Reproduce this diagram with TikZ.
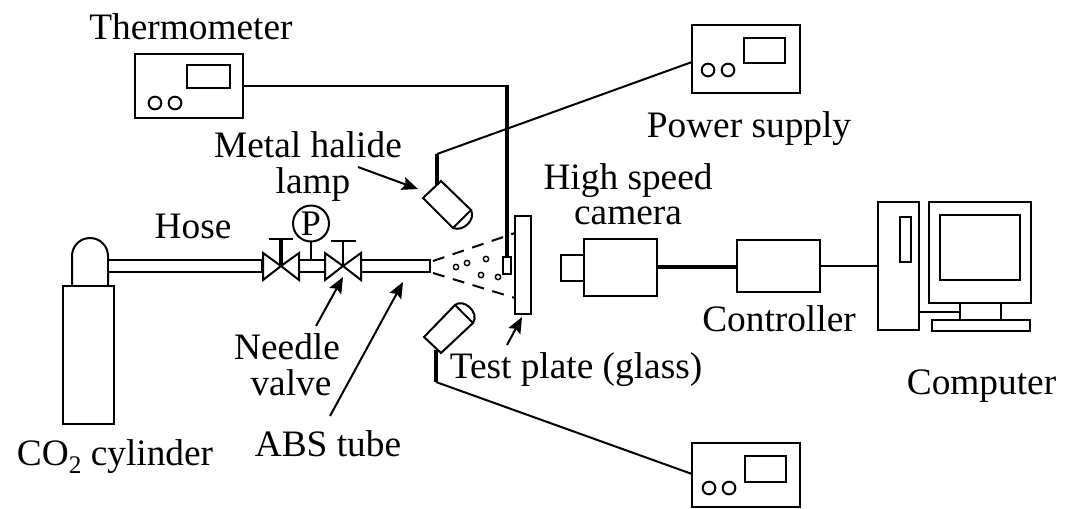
\documentclass[tikz,border=0pt]{standalone}
\usepackage{fontspec}
\setmainfont{Liberation Serif}
\usetikzlibrary{fit,arrows.meta}
\tikzset{
  lw/.style={line width=1.5pt},
  thickwire/.style={line width=2.6pt},
  blk/.style={draw,lw,inner sep=0pt,outer sep=0pt,rectangle,fill=white},
  txt/.style={anchor=base,inner sep=0pt,outer sep=0pt,font=\fontsize{28}{30}\selectfont},
  ptr/.style={lw,-{Stealth[length=12pt,width=10pt,inset=2pt]}},
  knob/.style={draw,lw,circle,inner sep=0pt,outer sep=0pt,minimum size=9.5pt},
  dot/.style={draw,line width=1.1pt,circle,inner sep=0pt,outer sep=0pt,minimum size=4pt},
  spray/.style={lw,dash pattern=on 9pt off 6.5pt}
}
\begin{document}
\begin{tikzpicture}[x=.75pt,y=-.75pt,line join=miter]
\useasboundingbox (0,0) rectangle (1066,508);
% --- instrument boxes
\node[blk,fit={(135,54)(243,118)}] (therm) {};
\node[blk,fit={(187,65)(230,88)}] (thermd) {};
\node[knob] (thermk1) at (155,103) {};
\node[knob] (thermk2) at (175,103) {};
\node[blk,fit={(692,25)(800,93)}] (psu) {};
\node[blk,fit={(744,38)(785,63)}] (psud) {};
\node[knob] (psuk1) at (708,70) {};
\node[knob] (psuk2) at (728,70) {};
\node[blk,fit={(692,443)(800,507)}] (psl) {};
\node[blk,fit={(744.5,456)(785.5,482)}] (psld) {};
\node[knob] (pslk1) at (709,488) {};
\node[knob] (pslk2) at (729,488) {};
% --- cylinder, hose, valves
\draw[lw] (72,286) -- (72,256) .. controls (72,246) and (80,238) .. (90,238)
  .. controls (100,238) and (108,246) .. (108,256) -- (108,286);
\node[blk,fit={(63,286)(114,424)}] (cyl) {};
\node[blk,fit={(108,260)(262,272)}] (hose) {};
\node[blk,fit={(299,260)(325,272)}] (mid) {};
\node[blk,fit={(361,260)(430,272)}] (abs) {};
\coordinate (v1) at (281,266);
\coordinate (v2) at (343,266);
\draw[lw,fill=white] (v1) -- (263,253) -- (263,280) -- cycle;
\draw[lw,fill=white] (v1) -- (299,253) -- (299,280) -- cycle;
\draw[lw,fill=white] (v2) -- (325,253) -- (325,280) -- cycle;
\draw[lw,fill=white] (v2) -- (361,253) -- (361,280) -- cycle;
\coordinate (h1) at (281,239);
\coordinate (h2) at (343,241);
\draw[thickwire] (v1) -- (h1);
\draw[lw] (v2) -- (h2);
\draw[thickwire,line width=2pt] (269,239) -- (293,239);
\draw[thickwire,line width=2pt] (331,241) -- (356,241);
\node[draw,lw,circle,inner sep=0pt,outer sep=0pt,minimum size=27pt,font=\fontsize{27}{27}\selectfont] (gauge) at (311,223.5) {P};
\draw[lw] (gauge.south) -- (gauge.south |- mid.north);
% --- spray
\coordinate (s1) at (433,261);
\coordinate (s2) at (433,273);
\coordinate (e1) at (515,233);
\coordinate (e2) at (515,298);
\draw[spray] (s1) -- (e1);
\draw[spray] (s2) -- (e2);
\node[dot] (d1) at (456,267) {};
\node[dot] (d2) at (467,263) {};
\node[dot] (d3) at (486,259) {};
\node[dot] (d4) at (481,275) {};
\node[dot] (d5) at (498,277) {};
\node[blk,fit={(515,216)(531,314)}] (plate) {};
\node[blk,fit={(503,257)(511,274)}] (sensor) {};
% --- thermometer wire
\coordinate (tj) at (sensor.north |- therm.east);
\draw[lw] (therm.east) -- (tj);
\draw[thickwire] ([yshift=1pt]tj) -- (sensor.north);
% --- lamps
\coordinate (la) at (423,198);
\coordinate (lb) at (441,181);
\coordinate (lc) at (471,210);
\coordinate (ld) at (453,228);
\draw[lw] (la) -- (lb) -- (lc) -- (ld) -- cycle;
\draw[lw] (lc) .. controls (476,220) and (463,232) .. (ld);
\coordinate (ua) at (437,185);
\coordinate (ub) at (437,154);
\coordinate (up) at (692,62);
\draw[thickwire] (ua) -- (ub);
\draw[lw] (ub) -- (up);
\coordinate (ma) at (424,337);
\coordinate (mb) at (455,305);
\coordinate (mc) at (473,323);
\coordinate (md) at (441,353);
\draw[lw] (ma) -- (mb) -- (mc) -- (md) -- cycle;
\draw[lw] (mb) .. controls (463,298) and (480,312) .. (mc);
\coordinate (wa) at (436,350);
\coordinate (wb) at (436,382);
\coordinate (wp) at (692,474);
\draw[thickwire] (wa) -- (wb);
\draw[lw] (wb) -- (wp);
% --- camera, controller, computer
\node[blk,fit={(561,255)(584,281)}] (lens) {};
\node[blk,fit={(584,239)(657,296)}] (cam) {};
\node[blk,fit={(737,240)(820,292)}] (ctrl) {};
\node[blk,fit={(878,202)(919,330)}] (tower) {};
\node[blk,fit={(900,217)(910.5,262)}] (slot) {};
\node[blk,fit={(929,202)(1031,303)}] (mon) {};
\node[blk,fit={(940,215)(1020,280)}] (scr) {};
\node[blk,fit={(960,303)(1001,320)}] (stand) {};
\node[blk,fit={(932,320)(1030,331)}] (base) {};
\draw[thickwire] (cam.east |- 0,267) -- (ctrl.west |- 0,267);
\draw[lw] (ctrl.east |- 0,266) -- (tower.west |- 0,266);
\draw[lw] (tower.east |- stand.west) -- (stand.west);
% --- labels
\node[txt] (tThermo) at (191,39) {Thermometer};
\node[txt] (tPower) at (749,137) {Power supply};
\node[txt] (tMetal) at (308,157) {Metal halide};
\node[txt] (tLamp) at (313,193) {lamp};
\node[txt] (tHigh) at (628,189) {High speed};
\node[txt] (tCam) at (628,224) {camera};
\node[txt] (tCtrl) at (779,331) {Controller};
\node[txt] (tPlate) at (576,378) {Test plate (glass)};
\node[txt] (tComp) at (981.5,394) {Computer};
\node[txt] (tHose) at (193,238) {Hose};
\node[txt] (tNeedle) at (287,359) {Needle};
\node[txt] (tValve) at (291,395) {valve};
\node[txt] (tAbs) at (328,456) {ABS tube};
\node[txt] (tCo) at (115,465) {CO\raisebox{-6pt}{\fontsize{19}{19}\selectfont 2} cylinder};
% --- pointers
\coordinate (p1a) at (358,167); \coordinate (p1b) at (418,189);
\coordinate (p2a) at (507,345); \coordinate (p2b) at (522,317);
\coordinate (p3a) at (330,416); \coordinate (p3b) at (403,282);
\coordinate (p4a) at (316,326); \coordinate (p4b) at (343,277);
\draw[ptr] (p1a) -- (p1b);
\draw[ptr] (p2a) -- (p2b);
\draw[ptr] (p3a) -- (p3b);
\draw[ptr] (p4a) -- (p4b);
\end{tikzpicture}
\end{document}
